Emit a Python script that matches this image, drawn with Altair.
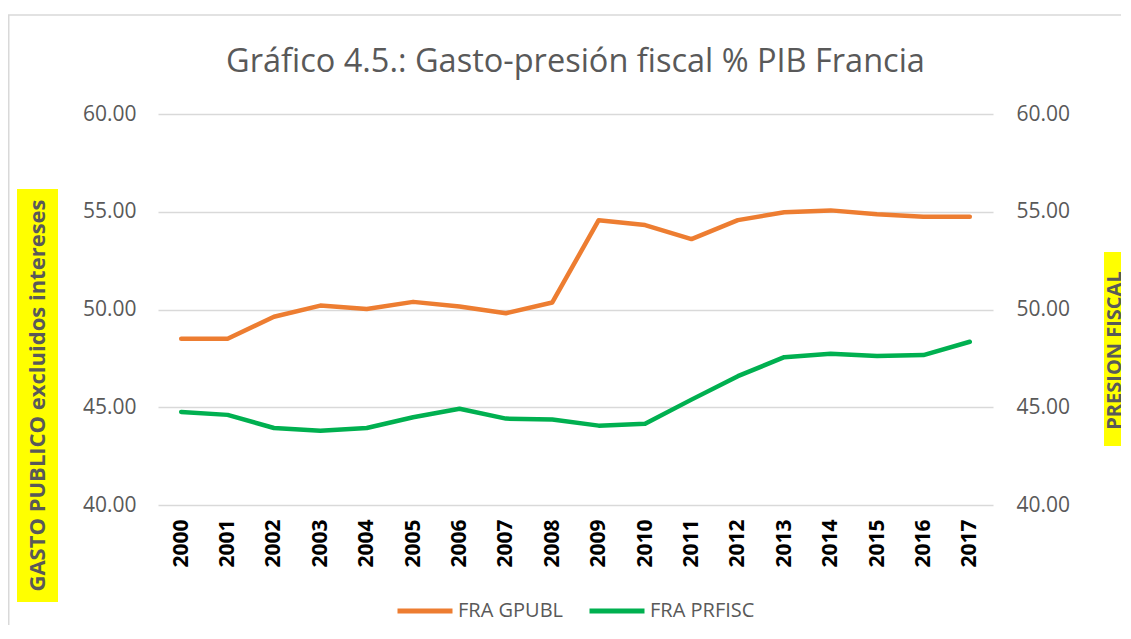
import altair as alt
import pandas as pd

# ---- data ----
years = list(range(2000, 2018))
gpubl = [48.50, 48.50, 49.63, 50.20, 50.03, 50.39, 50.15, 49.81, 50.36,
         54.57, 54.32, 53.60, 54.57, 54.97, 55.07, 54.87, 54.75, 54.75]
prfisc = [44.76, 44.61, 43.94, 43.80, 43.94, 44.49, 44.92, 44.42, 44.37,
          44.06, 44.15, 45.39, 46.59, 47.56, 47.74, 47.62, 47.67, 48.35]
series_names = ["FRA GPUBL", "FRA PRFISC"]
series_colors = ["#ED7D31", "#00B050"]
tick_values = [40, 45, 50, 55, 60]
title_text = "Gráfico 4.5.: Gasto-presión fiscal % PIB Francia"
left_axis_title = "GASTO PUBLICO excluidos intereses"
right_axis_title = "PRESION FISCAL"

df = pd.DataFrame({
    "year": years + years,
    "value": gpubl + prfisc,
    "series": [series_names[0]] * len(years) + [series_names[1]] * len(years),
})
deco = pd.DataFrame({"k": [0]})

FONT = "Open Sans"
GRAY = "#595959"
W, H = 835, 391

x_enc = alt.X(
    "year:O",
    scale=alt.Scale(type="point", padding=0.5),
    axis=alt.Axis(title=None, labelAngle=270, labelFont=FONT, labelFontWeight="bold",
                  labelFontSize=21, labelColor="#000000", labelPadding=14,
                  domain=False, ticks=False, grid=False),
)

color_enc = alt.Color(
    "series:N",
    scale=alt.Scale(domain=series_names, range=series_colors),
    legend=alt.Legend(title=None, orient="none", direction="horizontal",
                      legendX=237, legendY=467, symbolType="stroke", symbolSize=3025,
                      symbolStrokeWidth=5, labelFont=FONT, labelFontSize=20,
                      labelColor=GRAY, labelOffset=3, columnPadding=15, padding=0),
)

yscale = alt.Scale(domain=[40, 60], nice=False, zero=False)

left_line = alt.Chart(df).transform_filter(
    alt.datum.series == series_names[0]
).mark_line(strokeWidth=4.5, strokeCap="round", strokeJoin="round").encode(
    x=x_enc,
    y=alt.Y("value:Q", scale=yscale,
            axis=alt.Axis(title=None, orient="left", values=tick_values, format=".2f",
                          labelFont=FONT, labelFontSize=21, labelColor=GRAY,
                          labelPadding=22, domain=False, ticks=False,
                          grid=True, gridColor="#D9D9D9", gridWidth=1.3)),
    color=color_enc,
)

right_line = alt.Chart(df).transform_filter(
    alt.datum.series == series_names[1]
).mark_line(strokeWidth=4.5, strokeCap="round", strokeJoin="round").encode(
    x=x_enc,
    y=alt.Y("value:Q", scale=yscale,
            axis=alt.Axis(title=None, orient="right", values=tick_values, format=".2f",
                          labelFont=FONT, labelFontSize=21, labelColor=GRAY,
                          labelPadding=23, domain=False, ticks=False, grid=False)),
    color=color_enc,
)

border = alt.Chart(deco).mark_rect(filled=False, stroke="#D9D9D9", strokeWidth=1.5).encode(
    x=alt.value(-149.25), x2=alt.value(990), y=alt.value(-99), y2=alt.value(540)
)
chart_title = alt.Chart(deco).mark_text(
    font=FONT, fontSize=32.5, color=GRAY, align="center", baseline="alphabetic"
).encode(x=alt.value(W / 2), y=alt.value(-42), text=alt.value(title_text))
box_left = alt.Chart(deco).mark_rect(color="#FFFF00").encode(
    x=alt.value(-141), x2=alt.value(-100), y=alt.value(75), y2=alt.value(488)
)
text_left = alt.Chart(deco).mark_text(
    angle=270, font=FONT, fontWeight="bold", fontSize=22, color=GRAY,
    align="center", baseline="middle"
).encode(x=alt.value(-120.5), y=alt.value(281.5), text=alt.value(left_axis_title))
box_right = alt.Chart(deco).mark_rect(color="#FFFF00").encode(
    x=alt.value(946), x2=alt.value(1000), y=alt.value(138), y2=alt.value(332)
)
text_right = alt.Chart(deco).mark_text(
    angle=270, font=FONT, fontWeight="bold", fontSize=20, color=GRAY,
    align="center", baseline="middle"
).encode(x=alt.value(957), y=alt.value(236.5), text=alt.value(right_axis_title))

chart = alt.layer(
    border, chart_title, box_left, text_left, box_right, text_right, left_line, right_line
).resolve_scale(y="independent").properties(
    width=W, height=H,
    autosize=alt.AutoSizeParams(type="none"),
    padding={"left": 150, "top": 106, "right": 128, "bottom": 120},
    background="#FFFFFF",
).configure_view(stroke=None)

chart.save("out.html", embed_options={"renderer": "svg", "actions": False})
